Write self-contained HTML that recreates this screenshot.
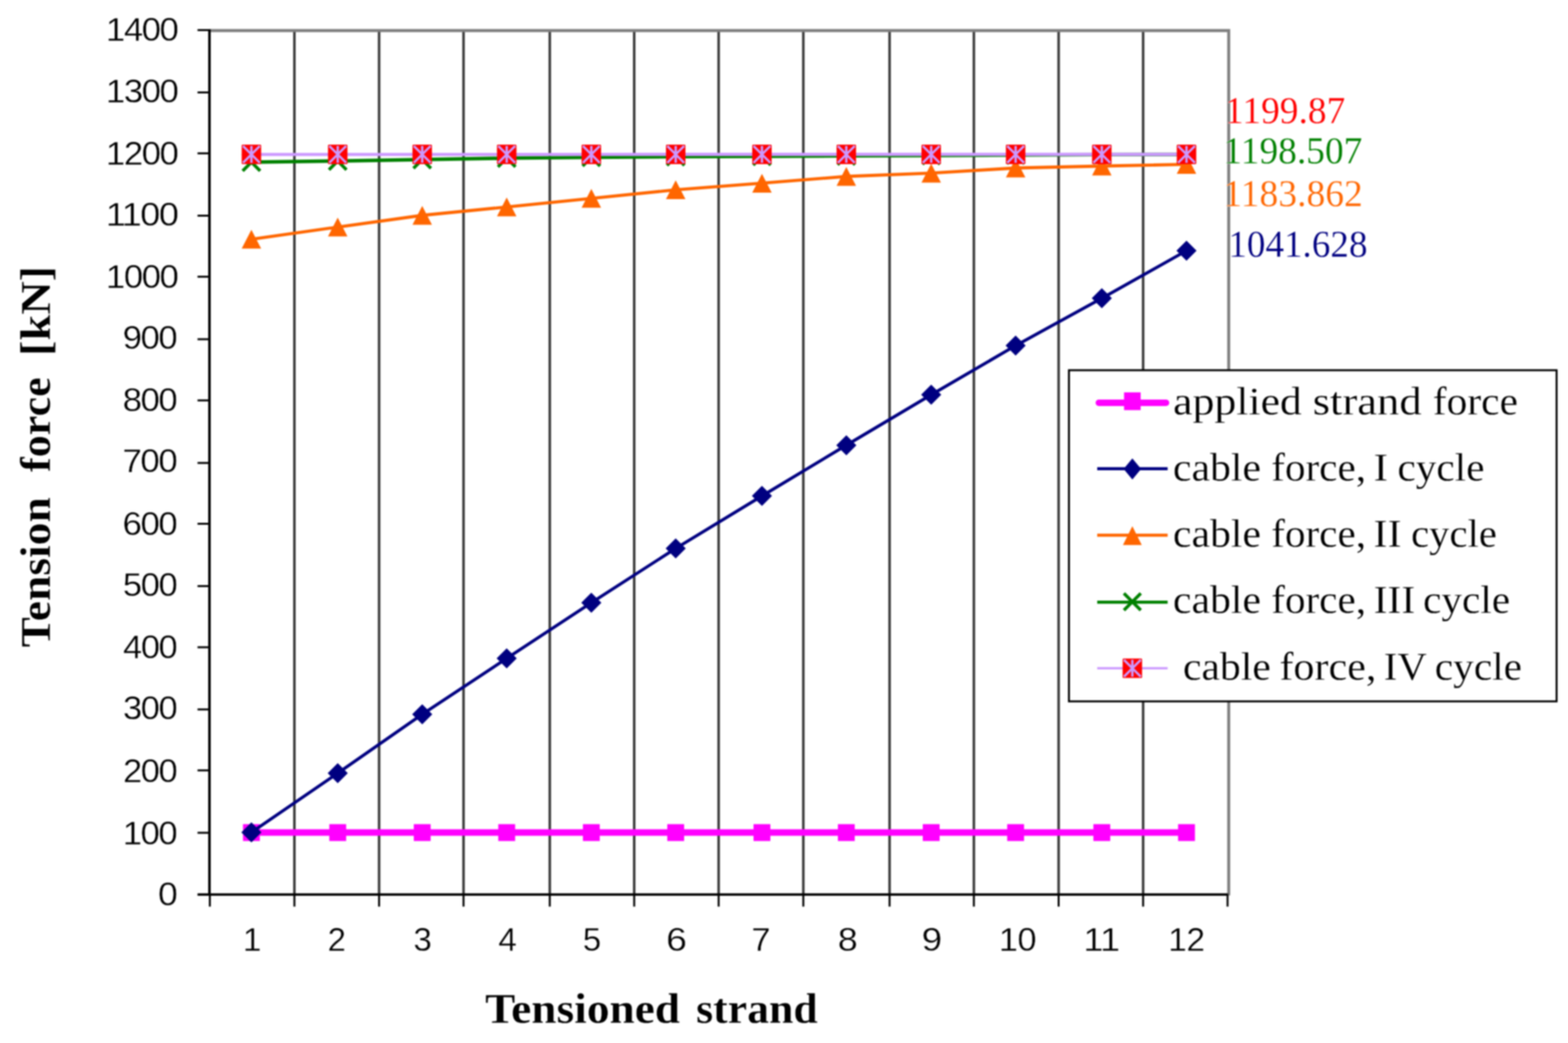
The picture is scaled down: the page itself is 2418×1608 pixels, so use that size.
<!DOCTYPE html>
<html lang="en">
<head>
<meta charset="utf-8">
<title>Tension force vs. tensioned strand</title>
<style>
html,body{margin:0;padding:0;background:#ffffff;}
body{width:2418px;height:1608px;overflow:hidden;}
svg{display:block;filter:blur(0.8px);}
</style>
</head>
<body>
<svg width="2418" height="1608" viewBox="0 0 2418 1608" role="img" aria-label="Tension force versus tensioned strand">
<rect x="0" y="0" width="2418" height="1608" fill="#ffffff"/>
<g id="grid" stroke="#3a3a3a" stroke-width="3.9" fill="none">
<line x1="454" y1="47.1" x2="454" y2="1379.1"/>
<line x1="584.6" y1="47.1" x2="584.6" y2="1379.1"/>
<line x1="714.8" y1="47.1" x2="714.8" y2="1379.1"/>
<line x1="847.8" y1="47.1" x2="847.8" y2="1379.1"/>
<line x1="978" y1="47.1" x2="978" y2="1379.1"/>
<line x1="1108.2" y1="47.1" x2="1108.2" y2="1379.1"/>
<line x1="1238.8" y1="47.1" x2="1238.8" y2="1379.1"/>
<line x1="1371.8" y1="47.1" x2="1371.8" y2="1379.1"/>
<line x1="1501.8" y1="47.1" x2="1501.8" y2="1379.1"/>
<line x1="1632.5" y1="47.1" x2="1632.5" y2="1379.1"/>
<line x1="1762.8" y1="47.1" x2="1762.8" y2="1379.1"/>
</g>
<path id="plot-border" d="M323 47.1L1894.8 47.1L1894.8 1380.6" stroke="#7f7f7f" stroke-width="4.6" fill="none"/>
<g id="axes" stroke="#000000" stroke-width="3.9" fill="none">
<line x1="323" y1="45.5" x2="323" y2="1380.9"/>
<line x1="304.6" y1="1379.1" x2="1893.8" y2="1379.1"/>
</g>
<g id="ticks" stroke="#000000" stroke-width="3" fill="none">
<line x1="304.6" y1="1283.9" x2="323" y2="1283.9"/>
<line x1="304.6" y1="1187.7" x2="323" y2="1187.7"/>
<line x1="304.6" y1="1093.75" x2="323" y2="1093.75"/>
<line x1="304.6" y1="997.9" x2="323" y2="997.9"/>
<line x1="304.6" y1="903.6" x2="323" y2="903.6"/>
<line x1="304.6" y1="807.5" x2="323" y2="807.5"/>
<line x1="304.6" y1="713.75" x2="323" y2="713.75"/>
<line x1="304.6" y1="617.3" x2="323" y2="617.3"/>
<line x1="304.6" y1="523" x2="323" y2="523"/>
<line x1="304.6" y1="426.6" x2="323" y2="426.6"/>
<line x1="304.6" y1="332.5" x2="323" y2="332.5"/>
<line x1="304.6" y1="236.4" x2="323" y2="236.4"/>
<line x1="304.6" y1="142.5" x2="323" y2="142.5"/>
<line x1="304.6" y1="46.4" x2="324.5" y2="46.4"/>
<line x1="454" y1="1379.1" x2="454" y2="1397.7"/>
<line x1="584.6" y1="1379.1" x2="584.6" y2="1397.7"/>
<line x1="714.8" y1="1379.1" x2="714.8" y2="1397.7"/>
<line x1="847.8" y1="1379.1" x2="847.8" y2="1397.7"/>
<line x1="978" y1="1379.1" x2="978" y2="1397.7"/>
<line x1="1108.2" y1="1379.1" x2="1108.2" y2="1397.7"/>
<line x1="1238.8" y1="1379.1" x2="1238.8" y2="1397.7"/>
<line x1="1371.8" y1="1379.1" x2="1371.8" y2="1397.7"/>
<line x1="1501.8" y1="1379.1" x2="1501.8" y2="1397.7"/>
<line x1="1632.5" y1="1379.1" x2="1632.5" y2="1397.7"/>
<line x1="1762.8" y1="1379.1" x2="1762.8" y2="1397.7"/>
<line x1="1893" y1="1379.1" x2="1893" y2="1397.7"/>
<line x1="323.6" y1="1379.1" x2="323.6" y2="1397.7"/>
</g>
<g id="y-tick-labels" font-family="'Liberation Sans', sans-serif" font-size="49.7" letter-spacing="-1.99" fill="#000000" stroke="#ffffff" stroke-width="0.4">
<text x="163.34" y="63.48" textLength="110.39" lengthAdjust="spacingAndGlyphs">1400</text>
<text x="163.34" y="157.68" textLength="110.39" lengthAdjust="spacingAndGlyphs">1300</text>
<text x="163.34" y="253.66" textLength="110.39" lengthAdjust="spacingAndGlyphs">1200</text>
<text x="163.19" y="348.28" textLength="110.44" lengthAdjust="spacingAndGlyphs">1100</text>
<text x="163.34" y="444.38" textLength="110.39" lengthAdjust="spacingAndGlyphs">1000</text>
<text x="189.21" y="538.48" textLength="82.65" lengthAdjust="spacingAndGlyphs">900</text>
<text x="189.18" y="634.33" textLength="82.69" lengthAdjust="spacingAndGlyphs">800</text>
<text x="188.94" y="728.38" textLength="82.93" lengthAdjust="spacingAndGlyphs">700</text>
<text x="189.08" y="825.18" textLength="82.79" lengthAdjust="spacingAndGlyphs">600</text>
<text x="189.63" y="919.08" textLength="82.24" lengthAdjust="spacingAndGlyphs">500</text>
<text x="189.86" y="1015.38" textLength="82.01" lengthAdjust="spacingAndGlyphs">400</text>
<text x="189.76" y="1109.18" textLength="82.11" lengthAdjust="spacingAndGlyphs">300</text>
<text x="189.7" y="1205.98" textLength="82.17" lengthAdjust="spacingAndGlyphs">200</text>
<text x="189.25" y="1302.38" textLength="82.62" lengthAdjust="spacingAndGlyphs">100</text>
<text x="243.66" y="1396.16" textLength="28.21" lengthAdjust="spacingAndGlyphs">0</text>
</g>
<g id="x-tick-labels" font-family="'Liberation Sans', sans-serif" font-size="49.7" fill="#000000" stroke="#ffffff" stroke-width="0.4">
<text x="374.48" y="1466.38" textLength="26.61" lengthAdjust="spacingAndGlyphs" letter-spacing="-1.99">1</text>
<text x="505.21" y="1466.38" textLength="26.21" lengthAdjust="spacingAndGlyphs" letter-spacing="-1.99">2</text>
<text x="637.63" y="1466.38" textLength="26.41" lengthAdjust="spacingAndGlyphs" letter-spacing="-1.99">3</text>
<text x="768.6" y="1466.38" textLength="26.47" lengthAdjust="spacingAndGlyphs" letter-spacing="-1.99">4</text>
<text x="898.71" y="1466.38" textLength="26.3" lengthAdjust="spacingAndGlyphs" letter-spacing="-1.99">5</text>
<text x="1027.27" y="1466.38" textLength="29.69" lengthAdjust="spacingAndGlyphs" letter-spacing="-1.99">6</text>
<text x="1158.67" y="1466.38" textLength="27.38" lengthAdjust="spacingAndGlyphs" letter-spacing="-1.99">7</text>
<text x="1292.11" y="1466.38" textLength="28.44" lengthAdjust="spacingAndGlyphs" letter-spacing="-1.99">8</text>
<text x="1421.15" y="1466.38" textLength="29.35" lengthAdjust="spacingAndGlyphs" letter-spacing="-1.99">9</text>
<text x="1540.28" y="1466.38" textLength="57.28" lengthAdjust="spacingAndGlyphs" letter-spacing="-0.75">10</text>
<text x="1670.69" y="1466.38" textLength="55.89" lengthAdjust="spacingAndGlyphs" letter-spacing="-0.75">11</text>
<text x="1801.56" y="1466.38" textLength="56.09" lengthAdjust="spacingAndGlyphs" letter-spacing="-0.75">12</text>
</g>
<g id="series-applied-strand-force">
<polyline points="387.7,1283.6 520.8,1283.6 651.1,1283.6 781.4,1283.6 911.9,1283.6 1042,1283.6 1175,1283.6 1305.1,1283.6 1436,1283.6 1566.2,1283.6 1699.1,1283.6 1829.7,1283.6" stroke="#ff00ff" stroke-width="10" fill="none"/>
<rect x="374.7" y="1270.6" width="26" height="26" fill="#ff00ff"/>
<rect x="507.8" y="1270.6" width="26" height="26" fill="#ff00ff"/>
<rect x="638.1" y="1270.6" width="26" height="26" fill="#ff00ff"/>
<rect x="768.4" y="1270.6" width="26" height="26" fill="#ff00ff"/>
<rect x="898.9" y="1270.6" width="26" height="26" fill="#ff00ff"/>
<rect x="1029" y="1270.6" width="26" height="26" fill="#ff00ff"/>
<rect x="1162" y="1270.6" width="26" height="26" fill="#ff00ff"/>
<rect x="1292.1" y="1270.6" width="26" height="26" fill="#ff00ff"/>
<rect x="1423" y="1270.6" width="26" height="26" fill="#ff00ff"/>
<rect x="1553.2" y="1270.6" width="26" height="26" fill="#ff00ff"/>
<rect x="1686.1" y="1270.6" width="26" height="26" fill="#ff00ff"/>
<rect x="1816.7" y="1270.6" width="26" height="26" fill="#ff00ff"/>
</g>
<g id="series-cable-force-I">
<polyline points="387.7,1283.3 520.8,1192.1 651.1,1101.2 781.4,1015 911.9,929.2 1042,845.5 1175,764.6 1305.1,686.4 1436,608.6 1566.2,532.8 1699.1,459.8 1829.7,386.5" stroke="#000080" stroke-width="4.8" fill="none" stroke-linejoin="round"/>
<polygon points="387.7,1267.8 403.2,1283.3 387.7,1298.8 372.2,1283.3" fill="#000080"/>
<polygon points="520.8,1176.6 536.3,1192.1 520.8,1207.6 505.3,1192.1" fill="#000080"/>
<polygon points="651.1,1085.7 666.6,1101.2 651.1,1116.7 635.6,1101.2" fill="#000080"/>
<polygon points="781.4,999.5 796.9,1015 781.4,1030.5 765.9,1015" fill="#000080"/>
<polygon points="911.9,913.7 927.4,929.2 911.9,944.7 896.4,929.2" fill="#000080"/>
<polygon points="1042,830 1057.5,845.5 1042,861 1026.5,845.5" fill="#000080"/>
<polygon points="1175,749.1 1190.5,764.6 1175,780.1 1159.5,764.6" fill="#000080"/>
<polygon points="1305.1,670.9 1320.6,686.4 1305.1,701.9 1289.6,686.4" fill="#000080"/>
<polygon points="1436,593.1 1451.5,608.6 1436,624.1 1420.5,608.6" fill="#000080"/>
<polygon points="1566.2,517.3 1581.7,532.8 1566.2,548.3 1550.7,532.8" fill="#000080"/>
<polygon points="1699.1,444.3 1714.6,459.8 1699.1,475.3 1683.6,459.8" fill="#000080"/>
<polygon points="1829.7,371 1845.2,386.5 1829.7,402 1814.2,386.5" fill="#000080"/>
</g>
<g id="series-cable-force-II">
<polyline points="387.7,368.8 520.8,350.1 651.1,332 781.4,319.1 911.9,305.8 1042,292.6 1175,282.4 1305.1,272 1436,266.9 1566.2,259 1699.1,256 1829.7,253.4" stroke="#ff6600" stroke-width="4.8" fill="none" stroke-linejoin="round"/>
<polygon points="387.7,354.3 402.7,383.3 372.7,383.3" fill="#ff6600"/>
<polygon points="520.8,335.6 535.8,364.6 505.8,364.6" fill="#ff6600"/>
<polygon points="651.1,317.5 666.1,346.5 636.1,346.5" fill="#ff6600"/>
<polygon points="781.4,304.6 796.4,333.6 766.4,333.6" fill="#ff6600"/>
<polygon points="911.9,291.3 926.9,320.3 896.9,320.3" fill="#ff6600"/>
<polygon points="1042,278.1 1057,307.1 1027,307.1" fill="#ff6600"/>
<polygon points="1175,267.9 1190,296.9 1160,296.9" fill="#ff6600"/>
<polygon points="1305.1,257.5 1320.1,286.5 1290.1,286.5" fill="#ff6600"/>
<polygon points="1436,252.4 1451,281.4 1421,281.4" fill="#ff6600"/>
<polygon points="1566.2,244.5 1581.2,273.5 1551.2,273.5" fill="#ff6600"/>
<polygon points="1699.1,241.5 1714.1,270.5 1684.1,270.5" fill="#ff6600"/>
<polygon points="1829.7,238.9 1844.7,267.9 1814.7,267.9" fill="#ff6600"/>
</g>
<g id="series-cable-force-III">
<polyline points="387.7,250 520.8,248.2 651.1,246 781.4,243.8 911.9,242.6 1042,241.6 1175,241 1305.1,240.4 1436,239.8 1566.2,239 1699.1,238.4 1829.7,238.2" stroke="#008000" stroke-width="5.4" fill="none" stroke-linejoin="round"/>
<path d="M374.2 236.5L401.2 263.5M374.2 263.5L401.2 236.5" stroke="#008000" stroke-width="5" fill="none"/>
<path d="M507.3 234.7L534.3 261.7M507.3 261.7L534.3 234.7" stroke="#008000" stroke-width="5" fill="none"/>
<path d="M637.6 232.5L664.6 259.5M637.6 259.5L664.6 232.5" stroke="#008000" stroke-width="5" fill="none"/>
<path d="M767.9 230.3L794.9 257.3M767.9 257.3L794.9 230.3" stroke="#008000" stroke-width="5" fill="none"/>
<path d="M898.4 229.1L925.4 256.1M898.4 256.1L925.4 229.1" stroke="#008000" stroke-width="5" fill="none"/>
<path d="M1028.5 228.1L1055.5 255.1M1028.5 255.1L1055.5 228.1" stroke="#008000" stroke-width="5" fill="none"/>
<path d="M1161.5 227.5L1188.5 254.5M1161.5 254.5L1188.5 227.5" stroke="#008000" stroke-width="5" fill="none"/>
<path d="M1291.6 226.9L1318.6 253.9M1291.6 253.9L1318.6 226.9" stroke="#008000" stroke-width="5" fill="none"/>
<path d="M1422.5 226.3L1449.5 253.3M1422.5 253.3L1449.5 226.3" stroke="#008000" stroke-width="5" fill="none"/>
<path d="M1552.7 225.5L1579.7 252.5M1552.7 252.5L1579.7 225.5" stroke="#008000" stroke-width="5" fill="none"/>
<path d="M1685.6 224.9L1712.6 251.9M1685.6 251.9L1712.6 224.9" stroke="#008000" stroke-width="5" fill="none"/>
<path d="M1816.2 224.7L1843.2 251.7M1816.2 251.7L1843.2 224.7" stroke="#008000" stroke-width="5" fill="none"/>
</g>
<g id="series-cable-force-IV">
<polyline points="387.7,238.2 520.8,238.2 651.1,238.1 781.4,238.1 911.9,238.1 1042,238 1175,238 1305.1,238 1436,238 1566.2,238 1699.1,238 1829.7,238" stroke="#cc99ff" stroke-width="4.8" fill="none" stroke-linejoin="round"/>
<rect x="372.7" y="222.9" width="30" height="30" rx="1.5" fill="#ff0000"/><path d="M374.7 224.9L400.7 250.9M374.7 250.9L400.7 224.9M387.7 224.9L387.7 250.9" stroke="#cc99ff" stroke-width="3.6" fill="none"/>
<rect x="505.8" y="222.9" width="30" height="30" rx="1.5" fill="#ff0000"/><path d="M507.8 224.9L533.8 250.9M507.8 250.9L533.8 224.9M520.8 224.9L520.8 250.9" stroke="#cc99ff" stroke-width="3.6" fill="none"/>
<rect x="636.1" y="222.9" width="30" height="30" rx="1.5" fill="#ff0000"/><path d="M638.1 224.9L664.1 250.9M638.1 250.9L664.1 224.9M651.1 224.9L651.1 250.9" stroke="#cc99ff" stroke-width="3.6" fill="none"/>
<rect x="766.4" y="222.9" width="30" height="30" rx="1.5" fill="#ff0000"/><path d="M768.4 224.9L794.4 250.9M768.4 250.9L794.4 224.9M781.4 224.9L781.4 250.9" stroke="#cc99ff" stroke-width="3.6" fill="none"/>
<rect x="896.9" y="222.9" width="30" height="30" rx="1.5" fill="#ff0000"/><path d="M898.9 224.9L924.9 250.9M898.9 250.9L924.9 224.9M911.9 224.9L911.9 250.9" stroke="#cc99ff" stroke-width="3.6" fill="none"/>
<rect x="1027" y="222.9" width="30" height="30" rx="1.5" fill="#ff0000"/><path d="M1029 224.9L1055 250.9M1029 250.9L1055 224.9M1042 224.9L1042 250.9" stroke="#cc99ff" stroke-width="3.6" fill="none"/>
<rect x="1160" y="222.9" width="30" height="30" rx="1.5" fill="#ff0000"/><path d="M1162 224.9L1188 250.9M1162 250.9L1188 224.9M1175 224.9L1175 250.9" stroke="#cc99ff" stroke-width="3.6" fill="none"/>
<rect x="1290.1" y="222.9" width="30" height="30" rx="1.5" fill="#ff0000"/><path d="M1292.1 224.9L1318.1 250.9M1292.1 250.9L1318.1 224.9M1305.1 224.9L1305.1 250.9" stroke="#cc99ff" stroke-width="3.6" fill="none"/>
<rect x="1421" y="222.9" width="30" height="30" rx="1.5" fill="#ff0000"/><path d="M1423 224.9L1449 250.9M1423 250.9L1449 224.9M1436 224.9L1436 250.9" stroke="#cc99ff" stroke-width="3.6" fill="none"/>
<rect x="1551.2" y="222.9" width="30" height="30" rx="1.5" fill="#ff0000"/><path d="M1553.2 224.9L1579.2 250.9M1553.2 250.9L1579.2 224.9M1566.2 224.9L1566.2 250.9" stroke="#cc99ff" stroke-width="3.6" fill="none"/>
<rect x="1684.1" y="222.9" width="30" height="30" rx="1.5" fill="#ff0000"/><path d="M1686.1 224.9L1712.1 250.9M1686.1 250.9L1712.1 224.9M1699.1 224.9L1699.1 250.9" stroke="#cc99ff" stroke-width="3.6" fill="none"/>
<rect x="1814.7" y="222.9" width="30" height="30" rx="1.5" fill="#ff0000"/><path d="M1816.7 224.9L1842.7 250.9M1816.7 250.9L1842.7 224.9M1829.7 224.9L1829.7 250.9" stroke="#cc99ff" stroke-width="3.6" fill="none"/>
</g>
<g id="end-value-labels" font-family="'Liberation Serif', serif" font-size="58.5" stroke="#ffffff" stroke-width="0.3">
<text x="1889.05" y="190.35" textLength="185.56" lengthAdjust="spacingAndGlyphs" fill="#ff0000">1199.87</text>
<text x="1886.55" y="252.45" textLength="214.47" lengthAdjust="spacingAndGlyphs" fill="#008000">1198.507</text>
<text x="1886.53" y="318.35" textLength="215.08" lengthAdjust="spacingAndGlyphs" fill="#ff6600">1183.862</text>
<text x="1894.19" y="396.15" textLength="214.55" lengthAdjust="spacingAndGlyphs" fill="#000080">1041.628</text>
</g>
<g id="legend">
<rect x="1648.4" y="570.8" width="752" height="510.5" fill="#ffffff" stroke="#000000" stroke-width="3.0"/>
<line x1="1694.5" y1="621" x2="1798.1" y2="621" stroke="#ff00ff" stroke-width="10" stroke-linecap="round"/>
<rect x="1733.4" y="604.9" width="25.6" height="27.4" fill="#ff00ff"/>
<line x1="1692" y1="722.7" x2="1800.6" y2="722.7" stroke="#000080" stroke-width="4.8"/>
<polygon points="1746.2,706.75 1759.7,723 1746.2,739.25 1732.7,723" fill="#000080"/>
<line x1="1692" y1="825.2" x2="1800.6" y2="825.2" stroke="#ff6600" stroke-width="4.8"/>
<polygon points="1746.2,811.2 1760.7,840.2 1731.7,840.2" fill="#ff6600"/>
<line x1="1692" y1="928.3" x2="1800.6" y2="928.3" stroke="#008000" stroke-width="4.8"/>
<path d="M1733.2 914.8L1759.2 940.8M1733.2 940.8L1759.2 914.8" stroke="#008000" stroke-width="5" fill="none"/>
<line x1="1692" y1="1030.3" x2="1800.6" y2="1030.3" stroke="#cc99ff" stroke-width="3.4"/>
<rect x="1731.2" y="1015.3" width="30" height="30" rx="1.5" fill="#ff0000"/><path d="M1733.2 1017.3L1759.2 1043.3M1733.2 1043.3L1759.2 1017.3M1746.2 1017.3L1746.2 1043.3" stroke="#cc99ff" stroke-width="3.6" fill="none"/>
<g font-family="'Liberation Serif', serif" font-size="62" fill="#000000" stroke="#ffffff" stroke-width="0.3">
<text y="638.95"><tspan x="1808.94" textLength="198.66" lengthAdjust="spacingAndGlyphs">applied</tspan> <tspan x="2024.25" textLength="168.13" lengthAdjust="spacingAndGlyphs">strand</tspan> <tspan x="2209.58" textLength="131.27" lengthAdjust="spacingAndGlyphs">force</tspan></text>
<text y="740.65"><tspan x="1808.89" textLength="135.62" lengthAdjust="spacingAndGlyphs">cable</tspan> <tspan x="1960.29" textLength="146.35" lengthAdjust="spacingAndGlyphs">force,</tspan> <tspan x="2118.03" textLength="22.58" lengthAdjust="spacingAndGlyphs">I</tspan> <tspan x="2154.91" textLength="134.38" lengthAdjust="spacingAndGlyphs">cycle</tspan></text>
<text y="842.85"><tspan x="1808.89" textLength="135.62" lengthAdjust="spacingAndGlyphs">cable</tspan> <tspan x="1960.29" textLength="146.35" lengthAdjust="spacingAndGlyphs">force,</tspan> <tspan x="2118.12" textLength="43.32" lengthAdjust="spacingAndGlyphs">II</tspan> <tspan x="2176.05" textLength="132.2" lengthAdjust="spacingAndGlyphs">cycle</tspan></text>
<text y="944.65"><tspan x="1808.89" textLength="135.62" lengthAdjust="spacingAndGlyphs">cable</tspan> <tspan x="1960.29" textLength="146.35" lengthAdjust="spacingAndGlyphs">force,</tspan> <tspan x="2118.15" textLength="64.24" lengthAdjust="spacingAndGlyphs">III</tspan> <tspan x="2194.62" textLength="134.07" lengthAdjust="spacingAndGlyphs">cycle</tspan></text>
<text y="1047.85"><tspan x="1824.39" textLength="135.31" lengthAdjust="spacingAndGlyphs">cable</tspan> <tspan x="1972.95" textLength="149.58" lengthAdjust="spacingAndGlyphs">force,</tspan> <tspan x="2133.72" textLength="65.71" lengthAdjust="spacingAndGlyphs">IV</tspan> <tspan x="2212.41" textLength="134.59" lengthAdjust="spacingAndGlyphs">cycle</tspan></text>
</g>
</g>
<g id="axis-titles" font-family="'Liberation Serif', serif" font-weight="bold" font-size="66.5" fill="#000000" stroke="#ffffff" stroke-width="0.3">
<text y="1576.75"><tspan x="748.05" textLength="300.71" lengthAdjust="spacingAndGlyphs">Tensioned</tspan> <tspan x="1073.58" textLength="187.45" lengthAdjust="spacingAndGlyphs">strand</tspan></text>
<text transform="translate(77.15 0) rotate(-90)" y="0"><tspan x="-998.05" textLength="231.57" lengthAdjust="spacingAndGlyphs">Tension</tspan> <tspan x="-727.81" textLength="146.42" lengthAdjust="spacingAndGlyphs">force</tspan> <tspan x="-548.86" textLength="138.97" lengthAdjust="spacingAndGlyphs">[kN]</tspan></text>
</g>
</svg>
</body>
</html>
